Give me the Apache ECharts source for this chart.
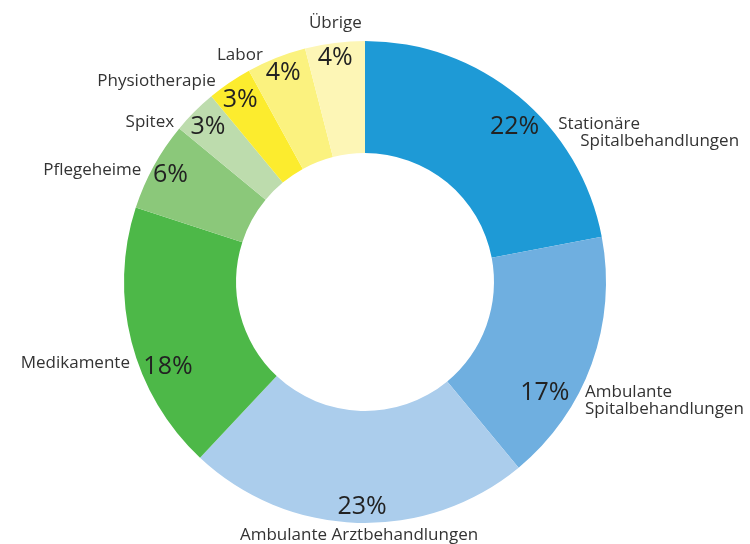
<!DOCTYPE html>
<html>
<head>
<meta charset="utf-8">
<script src="https://cdn.jsdelivr.net/npm/echarts@6/dist/echarts.min.js"></script>
<style>
  html, body { margin: 0; padding: 0; background: #fff; }
  #chart { width: 750px; height: 544px; }
</style>
</head>
<body>
<div id="chart"></div>
<script>
// Anteile der Leistungsgruppen in Prozent (Uhrzeigersinn ab 12 Uhr)
var categories = [
  "Stationäre\nSpitalbehandlungen",
  "Ambulante\nSpitalbehandlungen",
  "Ambulante Arztbehandlungen",
  "Medikamente",
  "Pflegeheime",
  "Spitex",
  "Physiotherapie",
  "Labor",
  "Übrige"
];
var shares = [22, 17, 23, 18, 6, 3, 3, 4, 4];

var colors = [
  "#1e9ad6", "#6fafe0", "#abcdec", "#4db848", "#8bc87a",
  "#bddcad", "#fcec2e", "#fbf27f", "#fdf6b6"
];

// label nudges relative to ECharts' own pie label layout
var nameShift = [[27, 46], [-23, 33], [7, 0], [15, 18], [3, 10], [-7, 19], [-2, 8], [-4, 8], [7, -8]];
var nameAlign = [null, null, "center", null, null, null, null, null, "center"];
var pctShift = [[8, 16], [-29, 36], [4, 3], [18, 30], [0, 0], [0, 2], [0, 1], [0, -3], [-2, -4]];

var chart = echarts.init(document.getElementById("chart"));

var nameData = categories.map(function (c, i) {
  var d = { name: c, value: shares[i], itemStyle: { color: colors[i] } };
  if (i === 0) {
    d.label = { formatter: "{a|Stationäre}\n{b|Spitalbehandlungen}" };
  }
  return d;
});

var pctData = categories.map(function (c, i) {
  return { name: c, value: shares[i] };
});

chart.setOption({
  animation: false,
  series: [
    {
      type: "pie",
      center: [365, 282],
      radius: [129, 241],
      startAngle: 90,
      clockwise: true,
      avoidLabelOverlap: false,
      silent: true,
      itemStyle: { borderWidth: 0 },
      label: {
        show: true,
        position: "outside",
        fontFamily: "Open Sans",
        fontSize: 17,
        lineHeight: 17,
        color: "#333",
        distanceToLabelLine: 5,
        rich: {
          a: { fontFamily: "Open Sans", fontSize: 17, lineHeight: 17, color: "#333" },
          b: { fontFamily: "Open Sans", fontSize: 17, lineHeight: 17, color: "#333", padding: [0, 0, 0, 22] }
        }
      },
      labelLine: { show: false, length: 12, length2: 0 },
      labelLayout: function (params) {
        var i = params.dataIndex;
        var out = { dx: nameShift[i][0], dy: nameShift[i][1] };
        if (nameAlign[i]) out.align = nameAlign[i];
        return out;
      },
      data: nameData
    },
    {
      type: "pie",
      center: [365, 282],
      radius: [197, 241],
      startAngle: 90,
      clockwise: true,
      avoidLabelOverlap: false,
      silent: true,
      z: 3,
      itemStyle: { color: "rgba(0,0,0,0)", borderWidth: 0 },
      label: {
        show: true,
        position: "inside",
        fontFamily: "Open Sans",
        fontSize: 25,
        color: "#222",
        textBorderWidth: 0,
        formatter: function (p) { return p.value + "%"; }
      },
      labelLine: { show: false },
      labelLayout: function (params) {
        var i = params.dataIndex;
        return { dx: pctShift[i][0], dy: pctShift[i][1] };
      },
      data: pctData
    }
  ]
});
</script>
</body>
</html>
